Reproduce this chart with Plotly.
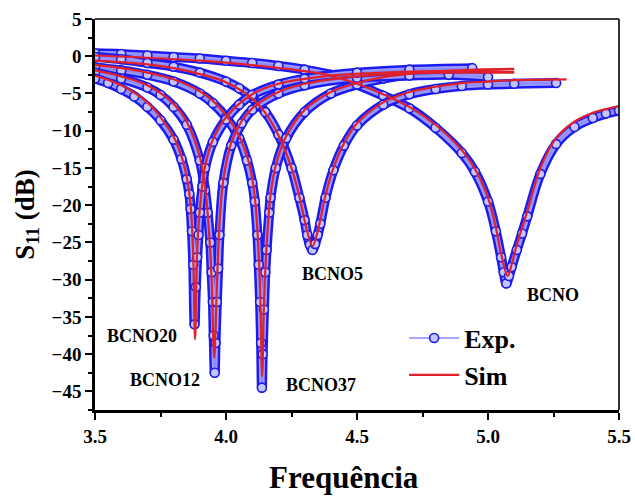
import plotly.graph_objects as go

# ---------------- data ----------------
samples = ["BCNO", "BCNO5", "BCNO37", "BCNO12", "BCNO20"]

exp_f_bcno = [3.5, 3.6, 3.7, 3.8, 3.9, 4.0, 4.1, 4.2, 4.3, 4.4, 4.5, 4.6, 4.7, 4.8, 4.9, 4.95, 5.0, 5.03, 5.05,
              5.06, 5.07, 5.08, 5.09, 5.11, 5.13, 5.15, 5.2, 5.26, 5.33, 5.4, 5.45, 5.5]
exp_v_bcno = [0.4, 0.3, 0.1, -0.1, -0.3, -0.6, -0.9, -1.3, -1.8, -2.5, -3.8, -5.3, -7.0, -9.6, -13.0, -15.5, -19.5,
              -23.5, -27.0, -29.0, -30.5, -29.5, -28.3, -26.0, -23.8, -21.5, -15.8, -11.8, -9.5, -8.3, -7.7, -7.3]

exp_f_bcno5 = [3.5, 3.6, 3.7, 3.8, 3.9, 4.0, 4.05, 4.1, 4.15, 4.2, 4.25, 4.28, 4.3, 4.31, 4.32, 4.33, 4.34, 4.35,
               4.36, 4.38, 4.41, 4.45, 4.5, 4.6, 4.7, 4.8, 4.9, 5.0, 5.1, 5.26]
exp_v_bcno5 = [-0.1, -0.4, -0.9, -1.4, -2.2, -3.4, -4.3, -5.6, -7.5, -10.5, -15.0, -19.0, -22.0, -24.0, -25.3,
               -26.0, -25.2, -24.0, -22.5, -19.0, -15.3, -12.0, -9.3, -6.5, -5.1, -4.4, -4.0, -3.8, -3.7, -3.6]

exp_f_bcno37 = [3.5, 3.6, 3.7, 3.8, 3.9, 3.95, 4.0, 4.05, 4.08, 4.1, 4.11, 4.12, 4.125, 4.13, 4.134, 4.137, 4.14,
                4.145, 4.15, 4.155, 4.165, 4.17, 4.19, 4.23, 4.3, 4.4, 4.5, 4.6, 4.75, 4.94]
exp_v_bcno37 = [-1.5, -1.9, -2.5, -3.4, -5.0, -6.3, -8.2, -11.0, -14.0, -17.0, -19.5, -24.0, -28.0, -33.0, -38.5,
                -44.5, -40.0, -34.0, -29.0, -26.0, -21.0, -19.0, -15.0, -11.0, -7.5, -5.0, -3.8, -3.0, -2.3, -1.9]

exp_f_bcno12 = [3.5, 3.6, 3.7, 3.75, 3.8, 3.85, 3.9, 3.92, 3.93, 3.94, 3.945, 3.95, 3.953, 3.957, 3.96, 3.965,
                3.97, 3.975, 3.99, 4.02, 4.06, 4.1, 4.2, 4.3, 4.5, 4.7, 4.85, 5.0]
exp_v_bcno12 = [-2.2, -3.0, -4.2, -5.2, -6.8, -9.2, -14.0, -18.0, -21.0, -25.0, -29.0, -33.0, -37.5, -42.5, -38.5,
                -33.0, -28.5, -24.0, -17.0, -12.0, -9.0, -7.2, -5.0, -3.9, -2.9, -2.6, -2.5, -2.8]

exp_f_bcno20 = [3.5, 3.55, 3.6, 3.65, 3.7, 3.75, 3.8, 3.83, 3.85, 3.86, 3.865, 3.87, 3.875, 3.88, 3.885, 3.89, 3.895,
                3.9, 3.91, 3.92, 3.95, 4.0, 4.05, 4.1, 4.2, 4.3, 4.5, 4.7, 4.94]
exp_v_bcno20 = [-3.0, -3.6, -4.4, -5.4, -6.8, -8.6, -11.2, -13.8, -16.5, -18.5, -20.5, -23.5, -28.0, -36.0, -31.0,
                -27.0, -24.0, -21.0, -17.5, -15.0, -11.5, -8.5, -6.5, -5.2, -3.8, -3.0, -2.2, -1.8, -1.6]

sim_f_bcno = [3.5, 3.7, 3.9, 4.1, 4.3, 4.4, 4.5, 4.6, 4.7, 4.8, 4.9, 4.95, 5.0, 5.03, 5.05, 5.075, 5.09, 5.11, 5.15,
              5.2, 5.26, 5.33, 5.4, 5.45, 5.5]
sim_v_bcno = [0.1, -0.2, -0.6, -1.2, -2.0, -2.6, -3.7, -5.1, -6.8, -9.2, -12.6, -15.1, -19.0, -23.0, -26.5, -29.5,
              -28.0, -25.3, -20.8, -15.0, -11.0, -8.8, -7.6, -7.1, -6.7]

sim_f_bcno5 = [3.5, 3.7, 3.8, 3.9, 4.0, 4.1, 4.15, 4.2, 4.25, 4.28, 4.31, 4.33, 4.35, 4.38, 4.41, 4.45, 4.5, 4.6,
               4.7, 4.8, 4.9, 5.0, 5.1, 5.3]
sim_v_bcno5 = [-0.6, -1.1, -1.6, -2.4, -3.5, -5.7, -7.6, -10.6, -15.0, -18.8, -23.5, -25.5, -23.5, -18.6, -15.0,
               -11.7, -9.0, -6.2, -4.8, -4.1, -3.6, -3.4, -3.2, -3.1]

sim_f_bcno37 = [3.5, 3.6, 3.7, 3.8, 3.9, 3.95, 4.0, 4.05, 4.09, 4.11, 4.12, 4.13, 4.138, 4.145, 4.155, 4.17, 4.19,
                4.23, 4.3, 4.4, 4.5, 4.6, 4.75, 4.95, 5.1]
sim_v_bcno37 = [-1.2, -1.6, -2.2, -3.1, -4.7, -6.0, -7.9, -10.7, -14.6, -19.0, -23.5, -31.0, -43.0, -33.0, -25.5,
                -18.6, -14.6, -10.7, -7.2, -4.8, -3.6, -2.8, -2.2, -1.8, -1.7]

sim_f_bcno12 = [3.5, 3.6, 3.7, 3.8, 3.85, 3.9, 3.92, 3.935, 3.945, 3.955, 3.965, 3.975, 3.99, 4.02, 4.06, 4.1, 4.2,
                4.3, 4.5, 4.7, 4.9, 5.1]
sim_v_bcno12 = [-1.9, -2.7, -3.9, -6.4, -8.8, -13.5, -17.5, -23.5, -30.0, -40.5, -31.0, -22.5, -16.5, -11.6, -8.7,
                -7.0, -4.8, -3.7, -2.7, -2.3, -2.2, -2.2]

sim_f_bcno20 = [3.5, 3.6, 3.7, 3.75, 3.8, 3.83, 3.85, 3.865, 3.875, 3.882, 3.89, 3.9, 3.92, 3.95, 4.0, 4.1, 4.2, 4.4,
                4.6, 4.8, 5.0, 5.1]
sim_v_bcno20 = [-2.6, -3.9, -6.2, -8.2, -10.8, -13.4, -16.2, -20.0, -27.0, -38.0, -26.0, -20.5, -14.8, -11.2, -8.2,
                -5.1, -3.7, -2.6, -2.2, -2.0, -2.0, -2.1]

label_text = ["BCNO20", "BCNO12", "BCNO37", "BCNO5", "BCNO"]
label_f = [3.679, 3.767, 4.361, 4.407, 5.249]
label_v = [-37.5, -43.5, -44.2, -29.2, -32.1]

x_ticks = [3.5, 4.0, 4.5, 5.0, 5.5]
y_ticks = [5, 0, -5, -10, -15, -20, -25, -30, -35, -40, -45]

x_title = "Frequência"
y_title = "S<sub>11</sub> (dB)"

exp_data = [(exp_f_bcno, exp_v_bcno), (exp_f_bcno5, exp_v_bcno5), (exp_f_bcno37, exp_v_bcno37),
            (exp_f_bcno12, exp_v_bcno12), (exp_f_bcno20, exp_v_bcno20)]
sim_data = [(sim_f_bcno, sim_v_bcno), (sim_f_bcno5, sim_v_bcno5), (sim_f_bcno37, sim_v_bcno37),
            (sim_f_bcno12, sim_v_bcno12), (sim_f_bcno20, sim_v_bcno20)]

# ---------------- figure ----------------
FONT = "Liberation Serif"
fig = go.Figure()

for i, (name, (fx, vy)) in enumerate(zip(samples, exp_data)):
    fig.add_trace(go.Scatter(x=fx, y=vy, mode="lines", line=dict(color="#1c1cf0", width=10, shape="spline"),
                             showlegend=False, hoverinfo="skip"))
    fig.add_trace(go.Scatter(x=fx, y=vy, mode="lines", line=dict(color="#9c9cff", width=5, shape="spline"),
                             showlegend=False, hoverinfo="skip"))
    fig.add_trace(go.Scatter(x=fx, y=vy, mode="lines+markers", name="Exp.", legendgroup="exp",
                             showlegend=(i == 0),
                             line=dict(color="#8a8aff", width=1.5, shape="spline"),
                             marker=dict(symbol="circle", size=9, color="#c4c4ff",
                                         line=dict(color="#1a1ae6", width=1.6))))

for i, (name, (fx, vy)) in enumerate(zip(samples, sim_data)):
    fig.add_trace(go.Scatter(x=fx, y=vy, mode="lines", name="Sim", legendgroup="sim",
                             showlegend=(i == 0),
                             line=dict(color="#e0202a", width=2.2, shape="spline")))

for t, fx, vy in zip(label_text, label_f, label_v):
    fig.add_annotation(x=fx, y=vy, text=t, showarrow=False,
                       font=dict(family=FONT, size=18, color="black", weight="bold"))

# x-axis title placed as a paper annotation to match the reference position
fig.add_annotation(xref="paper", yref="paper", x=0.475, y=-0.172, xanchor="center", yanchor="middle",
                   text=x_title, showarrow=False,
                   font=dict(family=FONT, size=31, color="black", weight="bold"))

# thinner top/right frame lines
fig.add_shape(type="line", xref="paper", yref="paper", x0=0, x1=1, y0=1, y1=1,
              line=dict(color="black", width=1.6))
fig.add_shape(type="line", xref="paper", yref="paper", x0=1, x1=1, y0=0, y1=1,
              line=dict(color="black", width=1.6))

axis_common = dict(showgrid=False, zeroline=False, showline=True, linecolor="black", linewidth=2.6,
                   mirror=False, ticks="outside", ticklen=7, tickwidth=2, tickcolor="black", automargin=False,
                   tickfont=dict(family=FONT, size=19, color="black", weight="bold"))

fig.update_xaxes(range=[3.5, 5.5], tickvals=x_ticks, ticktext=[f"{v:.1f}" for v in x_ticks],
                 minor=dict(dtick=0.25, tick0=3.5, ticks="outside", ticklen=4, tickwidth=2, tickcolor="black"),
                 **axis_common)
fig.update_yaxes(range=[-47.5, 5], tickvals=y_ticks,
                 minor=dict(dtick=2.5, tick0=0, ticks="outside", ticklen=4, tickwidth=2, tickcolor="black"),
                 title=dict(text=y_title + "\u2003\u2009", standoff=10,
                            font=dict(family=FONT, size=27, color="black", weight="bold")),
                 **axis_common)

fig.update_layout(
    width=635, height=497,
    margin=dict(l=95, r=16, t=19, b=87),
    paper_bgcolor="white", plot_bgcolor="white",
    legend=dict(x=0.59, y=0.244, xanchor="left", yanchor="top", bgcolor="rgba(0,0,0,0)",
                font=dict(family=FONT, size=26, color="black", weight="bold"),
                itemwidth=50, tracegroupgap=0),
)

fig.write_html("out.html", config={"displayModeBar": False},
               post_script="document.body.style.margin='0';document.body.style.overflow='hidden';"
                           "window.dispatchEvent(new Event('resize'));")
